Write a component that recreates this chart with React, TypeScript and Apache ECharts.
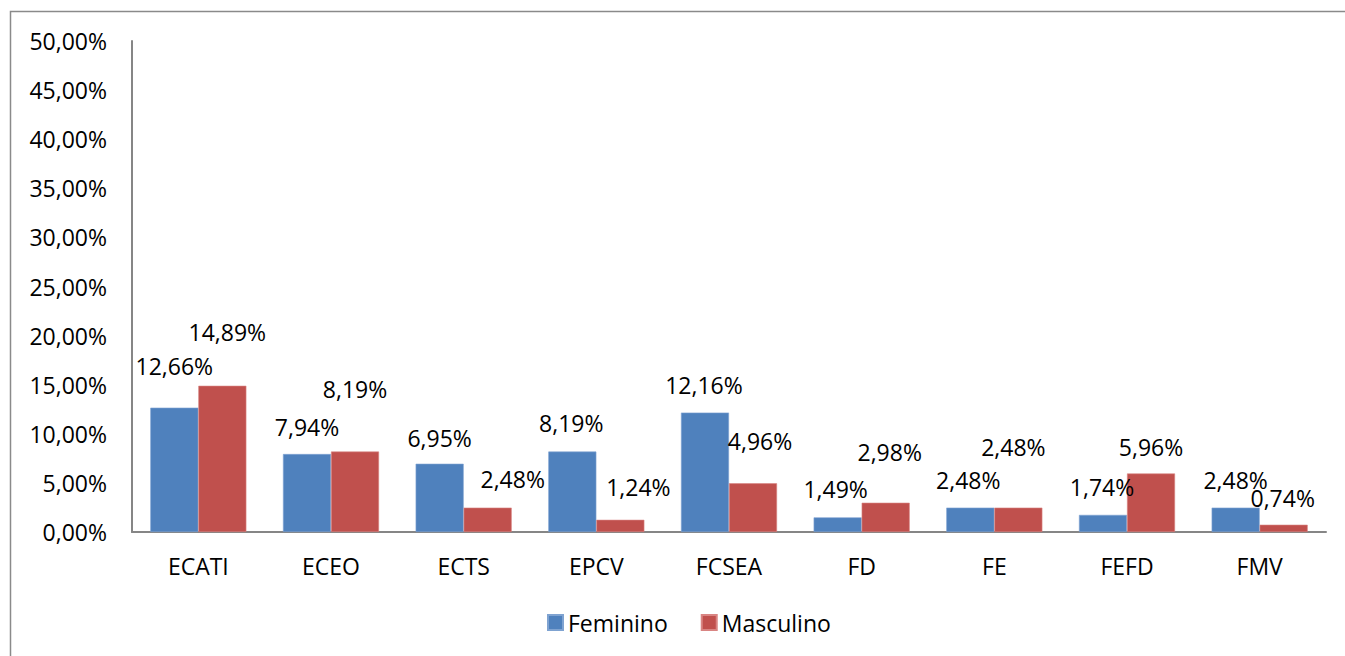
import React, { useEffect, useRef } from "react";
import * as echarts from "echarts";

const categories = ["ECATI", "ECEO", "ECTS", "EPCV", "FCSEA", "FD", "FE", "FEFD", "FMV"];
const feminino = [12.66, 7.94, 6.95, 8.19, 12.16, 1.49, 2.48, 1.74, 2.48];
const masculino = [14.89, 8.19, 2.48, 1.24, 4.96, 2.98, 2.48, 5.96, 0.74];
const yTicks = { min: 0, max: 50, interval: 5 };

// manual label nudges (pixels), as placed in the original
const femLabelDx = [0, 0, 0, -1, -1, -2, -2, -1, 0];
const femLabelLift = [14, 0, -2, 1, 0, 1, 0, 0, 0];
const mascLabelDx = [5, 0, 25, 18, 7, 4, -5, 0, -1];
const mascLabelLift = [26, 35, 1, 5, 15, 23, 33, -1, -1];

const FONT = "'Open Sans', 'Noto Sans', sans-serif";
const fmt = (v: number) => v.toFixed(2).replace(".", ",") + "%";

export default function App() {
  const ref = useRef<HTMLDivElement>(null);
  useEffect(() => {
    if (!ref.current) return;
    const chart = echarts.init(ref.current, undefined, { renderer: "svg" });
    const mk = (vals: number[], dx: number[], lift: number[]) =>
      vals.map((v, i) => ({
        value: v,
        label: { offset: [dx[i], -lift[i]] },
      }));
    const labelBase = {
      show: true,
      position: "top",
      distance: 16,
      color: "#000",
      fontFamily: FONT,
      fontSize: 23,
      formatter: (p: any) => fmt(p.value),
    };
    chart.setOption({
      animation: false,
      backgroundColor: "#fff",
      graphic: [
        {
          type: "rect",
          shape: { x: 10.5, y: 11.5, width: 1400, height: 700 },
          style: { fill: "none", stroke: "#8a8a8a", lineWidth: 1.5 },
          silent: true,
        },
      ],
      grid: { left: 132, right: 19, top: 41, bottom: 124, containLabel: false },
      legend: {
        left: 542,
        top: 606,
        itemWidth: 15,
        itemHeight: 15,
        itemGap: 33,
        icon: "rect",
        textStyle: { fontFamily: FONT, fontSize: 23, color: "#000" },
        data: ["Feminino", "Masculino"],
      },
      xAxis: {
        type: "category",
        data: categories,
        axisLine: { lineStyle: { color: "#868686", width: 2 } },
        axisTick: { show: false },
        axisLabel: { color: "#000", fontFamily: FONT, fontSize: 23, margin: 22 },
      },
      yAxis: {
        type: "value",
        min: yTicks.min,
        max: yTicks.max,
        interval: yTicks.interval,
        axisLine: { show: true, lineStyle: { color: "#868686", width: 2 } },
        axisTick: { show: false },
        splitLine: { show: false },
        axisLabel: {
          color: "#000",
          fontFamily: FONT,
          fontSize: 23,
          margin: 25,
          formatter: (v: number) => fmt(v),
        },
      },
      series: [
        {
          name: "Feminino",
          type: "bar",
          data: mk(feminino, femLabelDx, femLabelLift),
          barGap: "0%",
          barCategoryGap: "27.6%",
          itemStyle: { color: "#4F81BD", borderColor: "#7fa3d1", borderWidth: 0.6 },
          label: labelBase,
        },
        {
          name: "Masculino",
          type: "bar",
          data: mk(masculino, mascLabelDx, mascLabelLift),
          barGap: "0%",
          barCategoryGap: "27.6%",
          itemStyle: { color: "#C0504D", borderColor: "#d98583", borderWidth: 0.6 },
          label: labelBase,
        },
      ],
    });
    return () => chart.dispose();
  }, []);
  return (
    <div
      ref={ref}
      style={{ position: "fixed", left: 0, top: 0, width: 1345, height: 656, background: "#fff" }}
    />
  );
}
